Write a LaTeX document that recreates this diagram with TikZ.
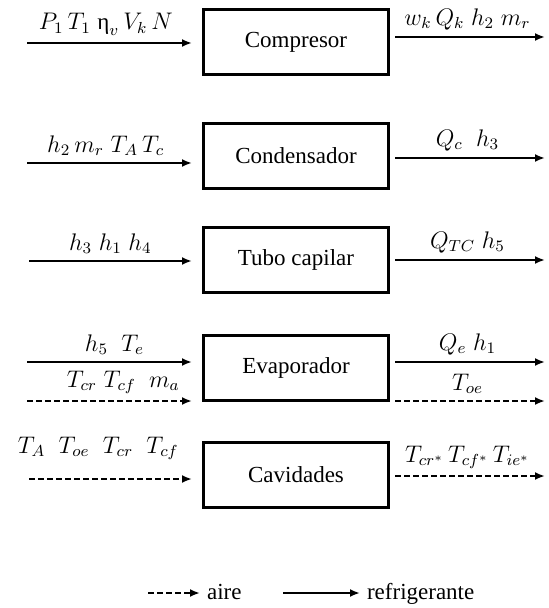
\documentclass[tikz,border=0pt]{standalone}
\usepackage{amsmath}
\usepackage{fontspec}
\setmainfont{Liberation Serif}
\newfontfamily\textoserif{Liberation Serif}
\usetikzlibrary{arrows.meta}

\begin{document}
\begin{tikzpicture}[x=0.5pt,y=-0.5pt, every node/.style={font=\textoserif\fontsize{11.5}{14}\selectfont},
  bloque/.style={draw,line width=1.5pt,minimum width=92.5pt,minimum height=32.5pt},
  flujoref/.style={line width=1.2pt,-{Latex[length=5pt,width=4pt]}},
  flujoaire/.style={flujoref,dash pattern=on 3pt off 1.5pt},
  etiq/.style={above=2pt,inner sep=1pt}]
  \useasboundingbox (0,0) rectangle (548,608);
  % bloques
  \node[bloque] (comp) at (296,42) {Compresor};
  \node[bloque] (cond) at (296,156) {Condensador};
  \node[bloque] (tubo) at (296,260) {Tubo capilar};
  \node[bloque] (evap) at (296,368) {Evaporador};
  \node[bloque] (cavi) at (296,475) {Cavidades};
  % extremos libres
  \coordinate (comp-in) at (27,43); \coordinate (comp-out) at (545,37);
  \coordinate (cond-in) at (27,163); \coordinate (cond-out) at (545,158);
  \coordinate (tubo-in) at (29,261); \coordinate (tubo-out) at (545,260);
  \coordinate (evap-in) at (27,362); \coordinate (evap-out) at (545,362);
  \coordinate (evap-ina) at (27,401); \coordinate (evap-outa) at (545,401);
  \coordinate (cavi-in) at (29,479); \coordinate (cavi-out) at (545,476);
  % entradas
  \draw[flujoref,shorten >=5pt] (comp-in) -- (comp-in -| comp.west) node[etiq,pos=0.45] {$P_1\,T_1\;\text{η}_v\,V_k\,N$};
  \draw[flujoref,shorten >=5pt] (cond-in) -- (cond-in -| cond.west) node[etiq,pos=0.45] {$h_2\,m_r\;T_A\,T_c$};
  \draw[flujoref,shorten >=5pt] (tubo-in) -- (tubo-in -| tubo.west) node[etiq,pos=0.47] {$h_3\;h_1\;h_4$};
  \draw[flujoref,shorten >=5pt] (evap-in) -- (evap-in -| evap.west) node[etiq,midway] {$h_5\;\;T_e$};
  \draw[flujoaire,shorten >=5pt] (evap-ina) -- (evap-ina -| evap.west) node[etiq,pos=0.55] {$T_{cr}\;T_{cf}\;\;m_a$};
  \draw[flujoaire,shorten >=5pt] (cavi-in) -- (cavi-in -| cavi.west) node[etiq,above=6pt,pos=0.4] {$T_A\;\;T_{oe}\;\;T_{cr}\;\;T_{cf}$};
  % salidas
  \draw[flujoref,shorten <=2.5pt] (comp.east |- comp-out) -- (comp-out) node[etiq,midway] {$w_k\,Q_k\;h_2\;m_r$};
  \draw[flujoref,shorten <=2.5pt] (cond.east |- cond-out) -- (cond-out) node[etiq,midway] {$Q_c\;\;h_3$};
  \draw[flujoref,shorten <=2.5pt] (tubo.east |- tubo-out) -- (tubo-out) node[etiq,midway] {$Q_{TC}\;h_5$};
  \draw[flujoref,shorten <=2.5pt] (evap.east |- evap-out) -- (evap-out) node[etiq,midway] {$Q_e\;h_1$};
  \draw[flujoaire,shorten <=2.5pt] (evap.east |- evap-outa) -- (evap-outa) node[etiq,midway] {$T_{oe}$};
  \draw[flujoaire,shorten <=2.5pt] (cavi.east |- cavi-out) -- (cavi-out) node[etiq,midway] {$T_{cr^*}\,T_{cf^*}\,T_{ie^*}$};
  % leyenda
  \node[anchor=base west] (ley-aire) at (200,599) {aire};
  \node[anchor=base west] (ley-ref) at (360,599) {refrigerante};
  \coordinate (ley-a) at (148,593); \coordinate (ley-r) at (283,593);
  \draw[flujoaire] (ley-a) -- (ley-a -| ley-aire.west);
  \draw[flujoref] (ley-r) -- (ley-r -| ley-ref.west);
\end{tikzpicture}
\end{document}
